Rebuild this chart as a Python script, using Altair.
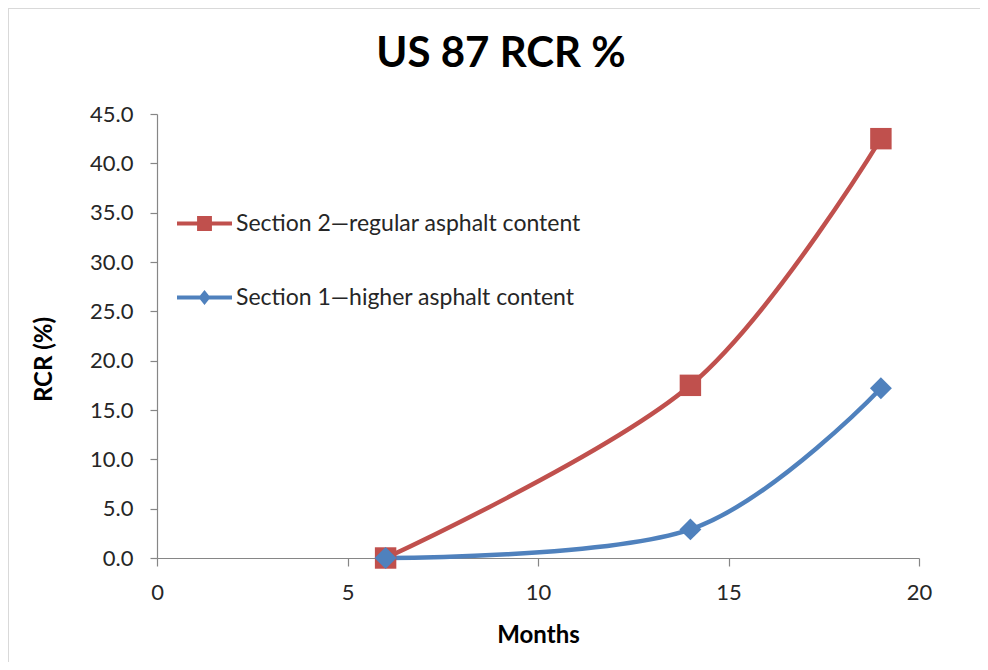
import altair as alt
import pandas as pd

months = [6, 14, 19]
sec2_vals = [0.0, 17.5, 42.5]
sec1_vals = [0.0, 2.9, 17.2]
sec2_name = "Section 2\u2014regular asphalt content"
sec1_name = "Section 1\u2014higher asphalt content"
series_order = [sec2_name, sec1_name]
series_colors = ["#C0504D", "#4F81BD"]
x_ticks = [0, 5, 10, 15, 20]
y_ticks = [0, 5, 10, 15, 20, 25, 30, 35, 40, 45]
chart_title = "US 87 RCR %"

rows = []
for m, v in zip(months, sec2_vals):
    rows.append({"Months": m, "RCR": v, "series": sec2_name})
for m, v in zip(months, sec1_vals):
    rows.append({"Months": m, "RCR": v, "series": sec1_name})
df = pd.DataFrame(rows)

# legend symbols: line segment with marker
sq_path = "M-1,-0.075H1V0.075H-1Z M-0.27,-0.27H0.27V0.27H-0.27Z"
dm_path = "M-1,-0.075H1V0.075H-1Z M0,-0.27L0.22,0L0,0.27L-0.22,0Z"

W, H = 762, 444

x_enc = alt.X("Months:Q", scale=alt.Scale(domain=[0, 20], nice=False),
              axis=alt.Axis(values=x_ticks, format="d", title="Months",
                            grid=False, tickSize=8, labelPadding=16, labelFlush=False,
                            titleY=84, titleBaseline="alphabetic"))
y_enc = alt.Y("RCR:Q", scale=alt.Scale(domain=[0, 45], nice=False),
              axis=alt.Axis(values=y_ticks, format=".1f", title="RCR (%)",
                            grid=False, tickSize=7, labelPadding=17, labelFlush=False,
                            titleX=-113, titleY=245, titleAngle=-90,
                            titleAlign="center", titleBaseline="middle"))
color_scale = alt.Scale(domain=series_order, range=series_colors)
color_noleg = alt.Color("series:N", scale=color_scale, legend=None)

base = alt.Chart(df)

leg = alt.Legend(title=None, orient="none", legendX=20, legendY=82,
                 symbolSize=3025, symbolOpacity=1, symbolStrokeWidth=0,
                 labelFontSize=23, labelFont="Lato", labelColor="#262626",
                 labelOffset=4, rowPadding=34, padding=0, labelLimit=600)

legend_layer = base.mark_point(filled=True, opacity=0.001, size=1).encode(
    x=x_enc, y=y_enc,
    color=alt.Color("series:N", scale=color_scale, legend=leg),
    shape=alt.Shape("series:N", scale=alt.Scale(domain=series_order, range=[sq_path, dm_path]), legend=leg),
)

lines = base.mark_line(interpolate="cardinal", strokeWidth=4.5).encode(
    x="Months:Q", y="RCR:Q", color=color_noleg, detail="series:N")

pts2 = base.transform_filter(alt.datum.series == sec2_name).mark_point(
    shape="square", filled=True, size=460, opacity=1).encode(
    x="Months:Q", y="RCR:Q", color=color_noleg)
pts1 = base.transform_filter(alt.datum.series == sec1_name).mark_point(
    shape="diamond", filled=True, size=480, opacity=1).encode(
    x="Months:Q", y="RCR:Q", color=color_noleg)

title_df = pd.DataFrame({"t": [chart_title]})
title_mark = alt.Chart(title_df).mark_text(
    font="Lato", fontSize=42, fontWeight="bold", color="#000000",
    align="center", baseline="alphabetic").encode(
    text="t:N", x=alt.value(344), y=alt.value(-47))

frame_left = alt.Chart(pd.DataFrame({"k": [0]})).mark_rule(color="#d9d9d9", strokeWidth=1).encode(
    x=alt.value(-148.5), y=alt.value(-106), y2=alt.value(H + 104))
frame_top = alt.Chart(pd.DataFrame({"k": [0]})).mark_rule(color="#d9d9d9", strokeWidth=1).encode(
    x=alt.value(-149), x2=alt.value(W + 61), y=alt.value(-105.5))

chart = alt.layer(legend_layer, frame_left, frame_top, lines, pts2, pts1, title_mark).properties(
    width=W, height=H,
    autosize="none",
    background="white",
    padding={"left": 149, "top": 106, "right": 61, "bottom": 104},
).configure_view(stroke=None).configure_axis(
    domainColor="#868686", tickColor="#868686", labelFont="Lato", labelFontSize=22,
    labelColor="#262626", titleFont="Lato", titleFontSize=24, titleFontWeight="bold",
    titleColor="#000000", domainWidth=1.2, tickWidth=1.2
)

chart.save("out.html", embed_options={"renderer": "svg", "actions": False})
